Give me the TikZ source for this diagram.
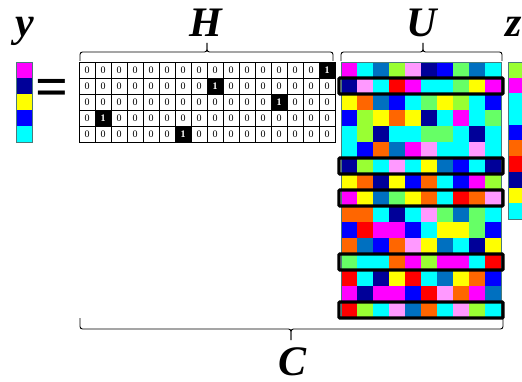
\documentclass[tikz,border=0pt]{standalone}
\usepackage{fontspec}
\setmainfont{Liberation Serif}
\definecolor{cM}{HTML}{FF00FF}
\definecolor{cC}{HTML}{00FFFF}
\definecolor{cS}{HTML}{0070C0}
\definecolor{cG}{HTML}{99FF33}
\definecolor{cP}{HTML}{FF99FF}
\definecolor{cN}{HTML}{000099}
\definecolor{cB}{HTML}{0000FF}
\definecolor{cL}{HTML}{66FF66}
\definecolor{cY}{HTML}{FFFF00}
\definecolor{cO}{HTML}{FF6600}
\definecolor{cR}{HTML}{FF0000}
\definecolor{edgecol}{HTML}{4A7A7A}
\begin{document}
\begin{tikzpicture}[x=1pt,y=-1pt,
  cell/.style={minimum width=16pt,minimum height=16pt,inner sep=0pt,outer sep=0pt},
  hcell/.style={cell,draw=black,line width=0.6pt,font=\fontsize{10}{10}\selectfont},
  hone/.style={hcell,fill=black,text=white,font=\fontsize{10}{10}\selectfont\bfseries},
  ccell/.style={cell},
  zcell/.style={cell,minimum width=14pt,minimum height=15.7pt},
  vecedge/.style={draw=edgecol,line width=0.8pt},
  hl/.style={draw=black,line width=3.2pt,rounded corners=1pt},
  bracestyle/.style={draw=black,line width=0.9pt,rounded corners=2.5pt},
  lbl/.style={font=\fontsize{42}{42}\selectfont\bfseries\itshape,inner sep=0pt,anchor=base}]
\useasboundingbox (0,0) rectangle (522,382);

% y vector
\foreach \col [count=\r] in {M,N,Y,B,C}
  \node[ccell,fill=c\col] (y-\r) at (24,{54+16*\r}) {};
\draw[vecedge] (y-1.north west) rectangle (y-5.south east);

% equals sign
\node[font=\fontsize{58}{58}\selectfont\bfseries,inner sep=0pt] (eq) at (52,92.5) {=};

% H matrix
\foreach \one [count=\r] in {16,9,13,2,7}{
  \foreach \c in {1,...,16}{
    \ifnum\c=\one\relax
      \node[hone] (h-\r-\c) at ({71+16*\c},{54+16*\r}) {1};
    \else
      \node[hcell] (h-\r-\c) at ({71+16*\c},{54+16*\r}) {0};
    \fi
  }
}

% U matrix
\foreach \row [count=\r] in {
  {M,C,S,G,P,N,B,L,S,C},
  {N,P,C,R,M,C,C,L,Y,M},
  {Y,O,S,B,C,L,Y,G,C,B},
  {B,G,Y,O,Y,N,C,M,C,L},
  {C,G,N,C,C,L,L,C,N,C},
  {C,B,O,S,M,P,C,C,P,C},
  {N,G,C,P,C,Y,S,B,C,N},
  {Y,O,N,Y,B,O,C,B,M,G},
  {M,Y,S,L,Y,O,C,R,O,P},
  {O,O,C,N,C,P,L,S,L,C},
  {B,R,M,M,B,C,Y,Y,L,B},
  {O,S,B,O,P,Y,S,C,N,Y},
  {L,C,C,O,M,G,M,M,C,R},
  {R,C,N,Y,R,C,S,Y,O,B},
  {M,N,M,M,B,R,P,O,M,S},
  {R,G,C,P,S,O,C,P,G,C}}{
  \foreach \col [count=\c] in \row
    \node[ccell,fill=c\col] (u-\r-\c) at ({333+16*\c},{54+16*\r}) {};
}
\draw[vecedge] (u-1-1.north west) rectangle (u-16-10.south east);
\foreach \r in {2,7,9,13,16}
  \draw[hl] ([xshift=-2pt]u-\r-1.north west) rectangle ([xshift=2pt]u-\r-10.south east);

% z vector
\foreach \col [count=\r] in {G,M,C,C,B,O,R,N,Y,C}
  \node[zcell,fill=c\col] (z-\r) at (515,{54.15+15.7*\r}) {};
\draw[vecedge] (z-1.north west) rectangle (z-10.south east);

% braces
\draw[bracestyle] (80,61) -- (80,52) -- (207,52) -- (207,43);
\draw[bracestyle] (333,61) -- (333,52) -- (207,52) -- (207,43);
\draw[bracestyle] (341,61) -- (341,52) -- (423,52) -- (423,43);
\draw[bracestyle] (502,61) -- (502,52) -- (423,52) -- (423,43);
\draw[bracestyle] (80,318) -- (80,329) -- (291,329) -- (291,340);
\draw[bracestyle] (503,318) -- (503,329) -- (291,329) -- (291,340);

% labels
\node[lbl] (ylab) at (25,37) {y};
\node[lbl] (Hlab) at (206,37) {H};
\node[lbl] (Ulab) at (422,37) {U};
\node[lbl,anchor=base west] (zlab) at (505,37) {z};
\node[lbl] (Clab) at (293,375) {C};
\end{tikzpicture}
\end{document}
